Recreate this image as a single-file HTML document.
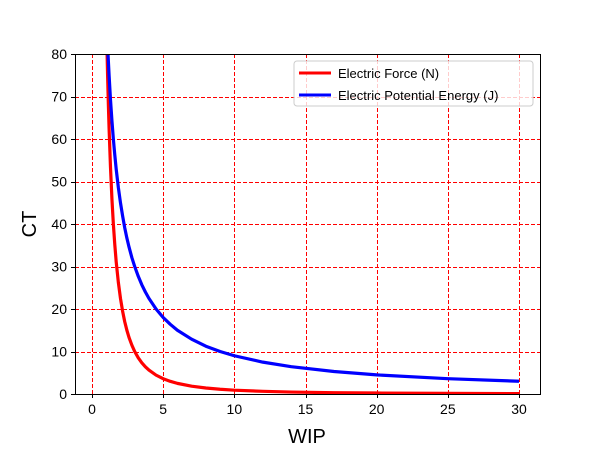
<!DOCTYPE html>
<html><head><meta charset="utf-8"><style>
body{margin:0;background:#fff}
svg{font-family:"Liberation Sans","DejaVu Sans",sans-serif}
</style></head><body>
<svg id="chart" width="600" height="450">
<defs><clipPath id="clip"><rect x="75" y="54" width="465" height="340"/></clipPath></defs>
<rect width="600" height="450" fill="#fff"/>
<g id="grid"></g>
<g id="series" clip-path="url(#clip)"></g>
<rect x="75.5" y="54.5" width="465" height="340" fill="none" stroke="#000" stroke-width="1"/>
<g id="ticks"></g>
<text x="307" y="443" font-size="20" text-anchor="middle">WIP</text>
<text x="0" y="0" font-size="20" text-anchor="middle" transform="translate(36,224) rotate(-90)">CT</text>
<g>
<rect x="294" y="61" width="239" height="45" rx="3" fill="#fff" fill-opacity="0.8" stroke="#ccc"/>
<line x1="299" y1="73" x2="331" y2="73" stroke="red" stroke-width="3"/>
<text x="338" y="78" font-size="13">Electric Force (N)</text>
<line x1="299" y1="95" x2="331" y2="95" stroke="blue" stroke-width="3"/>
<text x="338" y="100" font-size="13">Electric Potential Energy (J)</text>
</g>
</svg>
<script>
const xValues=[0.9,1,1.05,1.1,1.15,1.2,1.3,1.4,1.5,1.6,1.7,1.85,2,2.15,2.3,2.45,2.6,2.8,3,3.25,3.5,3.75,4,4.5,5,5.5,6,7,8,9,10,12,14,17,20,25,30];
const forceValues=[111.1,90,81.6,74.4,68.1,62.5,53.3,45.9,40,35.2,31.1,26.3,22.5,19.5,17,15,13.3,11.5,10,8.52,7.35,6.4,5.63,4.44,3.6,2.98,2.5,1.84,1.41,1.11,0.9,0.63,0.46,0.31,0.23,0.14,0.1];
const energyValues=[100,90,85.7,81.8,78.3,75,69.2,64.3,60,56.3,52.9,48.6,45,41.9,39.1,36.7,34.6,32.1,30,27.7,25.7,24,22.5,20,18,16.4,15,12.9,11.25,10,9,7.5,6.43,5.29,4.5,3.6,3];
const xTicks=[0,5,10,15,20,25,30];
const yTicks=[0,10,20,30,40,50,60,70,80];
const NS="http://www.w3.org/2000/svg";
const sx=v=>92+v*(519-92)/30;
const sy=v=>394-v*340/80;
const px=v=>Math.round(v)+0.5;
const grid=document.getElementById('grid'),ticks=document.getElementById('ticks'),series=document.getElementById('series');
function mk(tag,attrs,parent){const e=document.createElementNS(NS,tag);for(const k in attrs)e.setAttribute(k,attrs[k]);parent.appendChild(e);return e;}
xTicks.forEach(t=>{
 const g=mk('line',{x1:px(sx(t)),x2:px(sx(t)),y1:54,y2:394,stroke:'#ff0000','stroke-dasharray':'4,2','stroke-width':1,'shape-rendering':'crispEdges'},grid);
 
 
 const tk=mk('line',{x1:px(sx(t)),x2:px(sx(t)),y1:394,y2:398,stroke:'#000'},ticks);
 
 
 const l=mk('text',{x:sx(t),y:414,'font-size':14,'text-anchor':'middle'},ticks);l.textContent=t;
 
 
});
yTicks.forEach(t=>{
 const g=mk('line',{x1:75,x2:540,y1:px(sy(t)),y2:px(sy(t)),stroke:'#ff0000','stroke-dasharray':'4,2','stroke-width':1,'shape-rendering':'crispEdges'},grid);
 
 
 const tk=mk('line',{x1:71,x2:75,y1:px(sy(t)),y2:px(sy(t)),stroke:'#000'},ticks);
 
 
 const l=mk('text',{x:67,y:sy(t)+5,'font-size':14,'text-anchor':'end'},ticks);l.textContent=t;
 
 
});
function line(vals,color,name){
 const d=vals.map((v,i)=>(i?'L':'M')+sx(xValues[i]).toFixed(2)+','+sy(v).toFixed(2)).join('');
 const p=mk('path',{d:d,fill:'none',stroke:color,'stroke-width':3.2,'stroke-linejoin':'round'},series);
 
 
}
line(forceValues,'red','electric-force-line');
line(energyValues,'blue','electric-potential-energy-line');
</script>
</body></html>
